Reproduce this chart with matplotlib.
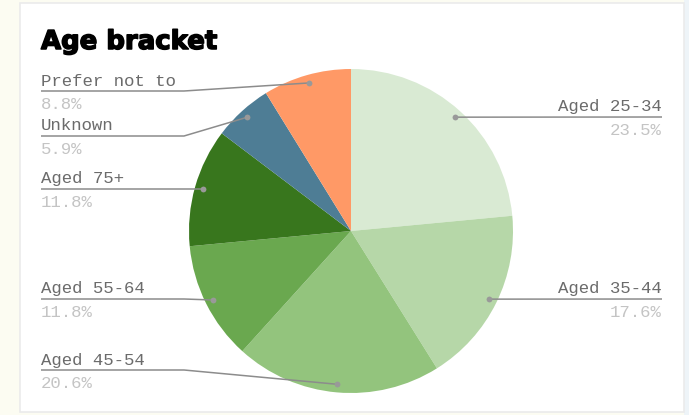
import numpy as np
import matplotlib
matplotlib.use("Agg")
import matplotlib.pyplot as plt
from matplotlib.patches import Rectangle
import matplotlib.patheffects as pe

# ---- data ----
title = "Age bracket"
labels = ["Aged 25-34", "Aged 35-44", "Aged 45-54", "Aged 55-64",
          "Aged 75+", "Unknown", "Prefer not to"]
values = [23.5, 17.6, 20.6, 11.8, 11.8, 5.9, 8.8]
colors = ["#d9ead3", "#b6d7a8", "#93c47d", "#6aa84f",
          "#38761d", "#4e7d95", "#ff9966"]

W, H = 689, 415
fig = plt.figure(figsize=(W / 100, H / 100), dpi=100)
fig.patch.set_facecolor("#fcfcf2")
ax = fig.add_axes([0, 0, 1, 1])

def Y(y_img):
    return H - y_img

# card background
ax.add_patch(Rectangle((684, 0), 5, H, facecolor="#eef4f8", edgecolor="none", zorder=0))
ax.add_patch(Rectangle((20, Y(412)), 664, 409, facecolor="white",
                       edgecolor="#ebebeb", linewidth=1.2, zorder=0.5))

cx, cy, R = 351, Y(231), 162
wedges, _ = ax.pie(values, colors=colors, startangle=90, counterclock=False,
                   center=(cx, cy), radius=R,
                   wedgeprops=dict(linewidth=0, antialiased=True))
for w in wedges:
    w.set_zorder(2)

ax.set_xlim(0, W)
ax.set_ylim(0, H)
ax.set_aspect("equal")
ax.axis("off")

# label layout (image-pixel y of the underline, side)
layout = {
    "Aged 25-34": (117, "R"),
    "Aged 35-44": (299, "R"),
    "Aged 45-54": (370, "L"),
    "Aged 55-64": (299, "L"),
    "Aged 75+": (189, "L"),
    "Unknown": (136, "L"),
    "Prefer not to": (91, "L"),
}

line_col = "#8c8c8c"
lab_col = "#6b6b6b"
pct_col = "#c4c4c4"
mono = "Liberation Mono"
fs = 12.5

for w, lab, v in zip(wedges, labels, values):
    ang = np.deg2rad((w.theta1 + w.theta2) / 2)
    ax_x = cx + 0.95 * R * np.cos(ang)
    ax_y = cy + 0.95 * R * np.sin(ang)
    ly, side = layout[lab]
    yl = Y(ly)
    if side == "L":
        x0 = 41
        elbow = min(184, ax_x)
        ax.plot([x0, elbow, ax_x], [yl, yl, ax_y], color=line_col, lw=1.1,
                zorder=3, solid_capstyle="butt")
        ax.text(x0, yl + 5.5, lab, ha="left", va="baseline", fontsize=fs,
                family=mono, color=lab_col, zorder=4)
        ax.text(x0, yl - 18, f"{v:.1f}%", ha="left", va="baseline", fontsize=fs,
                family=mono, color=pct_col, zorder=4)
    else:
        x1 = 662
        ax.plot([ax_x, x1], [ax_y, yl], color=line_col, lw=1.1, zorder=3,
                solid_capstyle="butt")
        ax.text(x1, yl + 5.5, lab, ha="right", va="baseline", fontsize=fs,
                family=mono, color=lab_col, zorder=4)
        ax.text(x1, yl - 18, f"{v:.1f}%", ha="right", va="baseline", fontsize=fs,
                family=mono, color=pct_col, zorder=4)
    ax.plot([ax_x], [ax_y], "o", ms=4.2, color="#999999", mec="none", zorder=5)

ax.text(41, Y(49), title, ha="left", va="baseline", fontsize=18.7,
        family="DejaVu Sans", fontweight="bold", color="black", zorder=4,
        path_effects=[pe.withStroke(linewidth=1.1, foreground="black")])

fig.savefig("out.png", dpi=100, facecolor=fig.get_facecolor())
